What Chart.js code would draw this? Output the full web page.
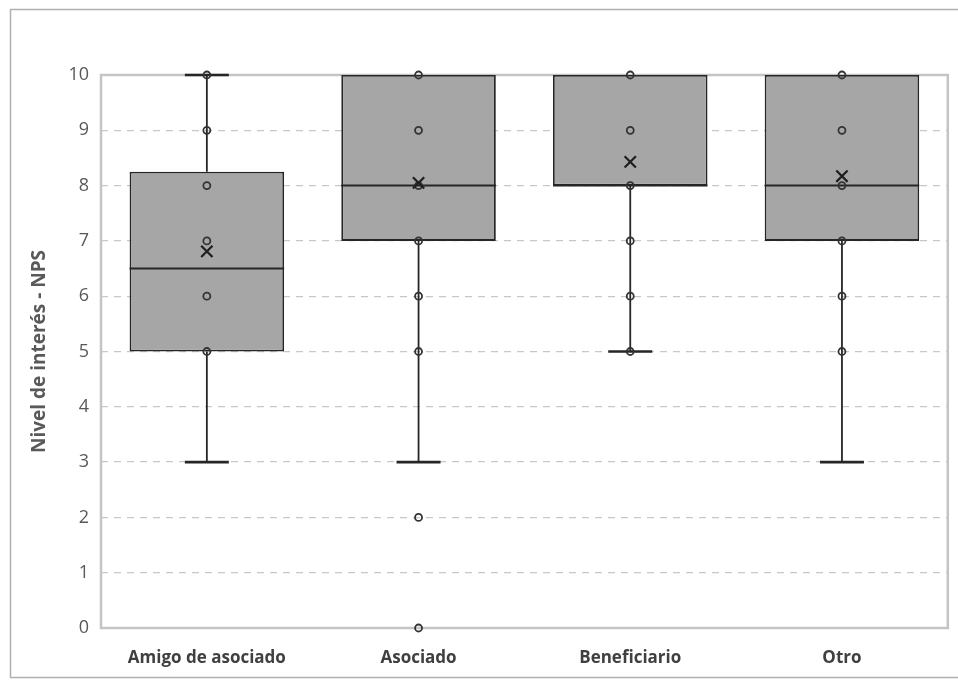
<!DOCTYPE html>
<html>
<head>
<meta charset="utf-8">
<script src="https://cdn.jsdelivr.net/npm/chart.js@4.4.1/dist/chart.umd.min.js"></script>
<style>
  html, body { margin: 0; padding: 0; background: #fff; }
  #graph { display: block; }
</style>
</head>
<body>
<canvas id="graph" width="958" height="681"></canvas>
<script>
// categories and box statistics
const categories = ['Amigo de asociado', 'Asociado', 'Beneficiario', 'Otro'];
const q1 = [5, 7, 8, 7];
const q3 = [8.25, 10, 10, 10];
const medians = [6.5, 8, 8, 8];
const means = [6.81, 8.05, 8.43, 8.17];
const whiskerLow = [3, 3, 5, 3];
const whiskerHigh = [10, 10, 10, 10];

// individual points shown as small circles
const pointsAmigo = [10, 9, 8, 7, 6, 5];
const pointsAsociado = [10, 9, 8, 7, 6, 5, 2, 0];
const pointsBeneficiario = [10, 9, 8, 7, 6, 5];
const pointsOtro = [10, 9, 8, 7, 6, 5];

const yTicks = [0, 1, 2, 3, 4, 5, 6, 7, 8, 9, 10];

const pointData = [];
[pointsAmigo, pointsAsociado, pointsBeneficiario, pointsOtro].forEach(function(list, i) {
  list.forEach(function(v) { pointData.push({ x: categories[i], y: v }); });
});
const meanData = means.map(function(v, i) { return { x: categories[i], y: v }; });

const lineColor = '#262626';

// whiskers, caps, medians and frames
const boxExtras = {
  id: 'boxExtras',
  beforeDraw(chart) {
    const ctx = chart.ctx;
    ctx.save();
    ctx.strokeStyle = '#b0b0b0';
    ctx.lineWidth = 1.5;
    ctx.strokeRect(10.5, 9.5, 960, 668);
    ctx.restore();
  },
  beforeDatasetsDraw(chart) {
    const ctx = chart.ctx;
    const a = chart.chartArea;
    const x = chart.scales.x, y = chart.scales.y;
    ctx.save();
    ctx.strokeStyle = '#c4c4c4';
    ctx.lineWidth = 2.5;
    ctx.strokeRect(a.left, a.top, a.right - a.left, a.bottom - a.top);

    ctx.strokeStyle = lineColor;
    const capHalf = 22;
    categories.forEach(function(c, i) {
      const px = x.getPixelForValue(i);
      ctx.lineWidth = 1.8;
      ctx.beginPath();
      ctx.moveTo(px, y.getPixelForValue(whiskerLow[i]));
      ctx.lineTo(px, y.getPixelForValue(q1[i]));
      ctx.moveTo(px, y.getPixelForValue(q3[i]));
      ctx.lineTo(px, y.getPixelForValue(whiskerHigh[i]));
      ctx.stroke();
      ctx.lineWidth = 2.6;
      if (whiskerLow[i] < q1[i]) {
        const py = y.getPixelForValue(whiskerLow[i]);
        ctx.beginPath();
        ctx.moveTo(px - capHalf, py);
        ctx.lineTo(px + capHalf, py);
        ctx.stroke();
      }
      if (whiskerHigh[i] > q3[i]) {
        const py = y.getPixelForValue(whiskerHigh[i]);
        ctx.beginPath();
        ctx.moveTo(px - capHalf, py);
        ctx.lineTo(px + capHalf, py);
        ctx.stroke();
      }
    });
    ctx.restore();
  },
  afterDatasetDraw(chart, args) {
    if (args.index !== 0) return;
    const ctx = chart.ctx;
    const y = chart.scales.y;
    const meta = chart.getDatasetMeta(0);
    ctx.save();
    ctx.strokeStyle = lineColor;
    ctx.lineWidth = 2;
    meta.data.forEach(function(bar, i) {
      const half = bar.width / 2;
      const py = y.getPixelForValue(medians[i]);
      ctx.beginPath();
      ctx.moveTo(bar.x - half, py);
      ctx.lineTo(bar.x + half, py);
      ctx.stroke();
    });
    ctx.restore();
  }
};

const ctx = document.getElementById('graph').getContext('2d');
window.myChart = new Chart(ctx, {
  type: 'bar',
  data: {
    labels: categories,
    datasets: [{
      type: 'bar',
      label: 'Caja',
      data: q1.map(function(v, i) { return [v, q3[i]]; }),
      backgroundColor: '#a6a6a6',
      borderColor: lineColor,
      borderWidth: 1.8,
      borderSkipped: false,
      barPercentage: 0.73,
      categoryPercentage: 1,
      order: 3
    },
    {
      type: 'line',
      label: 'Puntos',
      data: pointData,
      showLine: false,
      pointRadius: 3.5,
      pointBorderWidth: 1.8,
      pointBackgroundColor: 'rgba(0,0,0,0)',
      pointBorderColor: '#333',
      clip: false,
      order: 1
    },
    {
      type: 'line',
      label: 'Media',
      data: meanData,
      showLine: false,
      pointStyle: 'crossRot',
      pointRadius: 8,
      pointBorderWidth: 2.2,
      pointBorderColor: '#1f1f1f',
      clip: false,
      order: 0
    }]
  },
  options: {
    responsive: false,
    animation: false,
    layout: { padding: { left: 10, top: 75, right: 8, bottom: 0 } },
    plugins: {
      legend: { display: false },
      tooltip: { enabled: false }
    },
    scales: {
      x: {
        grid: { display: false },
        border: { display: false },
        ticks: {
          color: '#404040',
          font: { family: 'Open Sans', size: 17, weight: 'bold' },
          padding: 12
        },
        afterFit: function(scale) { scale.height = 53; }
      },
      y: {
        min: 0,
        max: 10,
        afterBuildTicks: function(scale) {
          scale.ticks = yTicks.map(function(v) { return { value: v }; });
        },
        grid: { color: '#c8c8c8', lineWidth: 1.2, drawTicks: false },
        border: { display: false, dash: [7, 6] },
        ticks: {
          color: '#595959',
          font: { family: 'Open Sans', size: 18 },
          padding: 12
        },
        title: {
          display: true,
          text: 'Nivel de interés - NPS',
          color: '#595959',
          font: { family: 'Open Sans', size: 19, weight: 'bold' },
          padding: { top: 18, bottom: 0 }
        },
        afterFit: function(scale) { scale.width = 91; }
      }
    }
  },
  plugins: [boxExtras]
});
</script>
</body>
</html>
